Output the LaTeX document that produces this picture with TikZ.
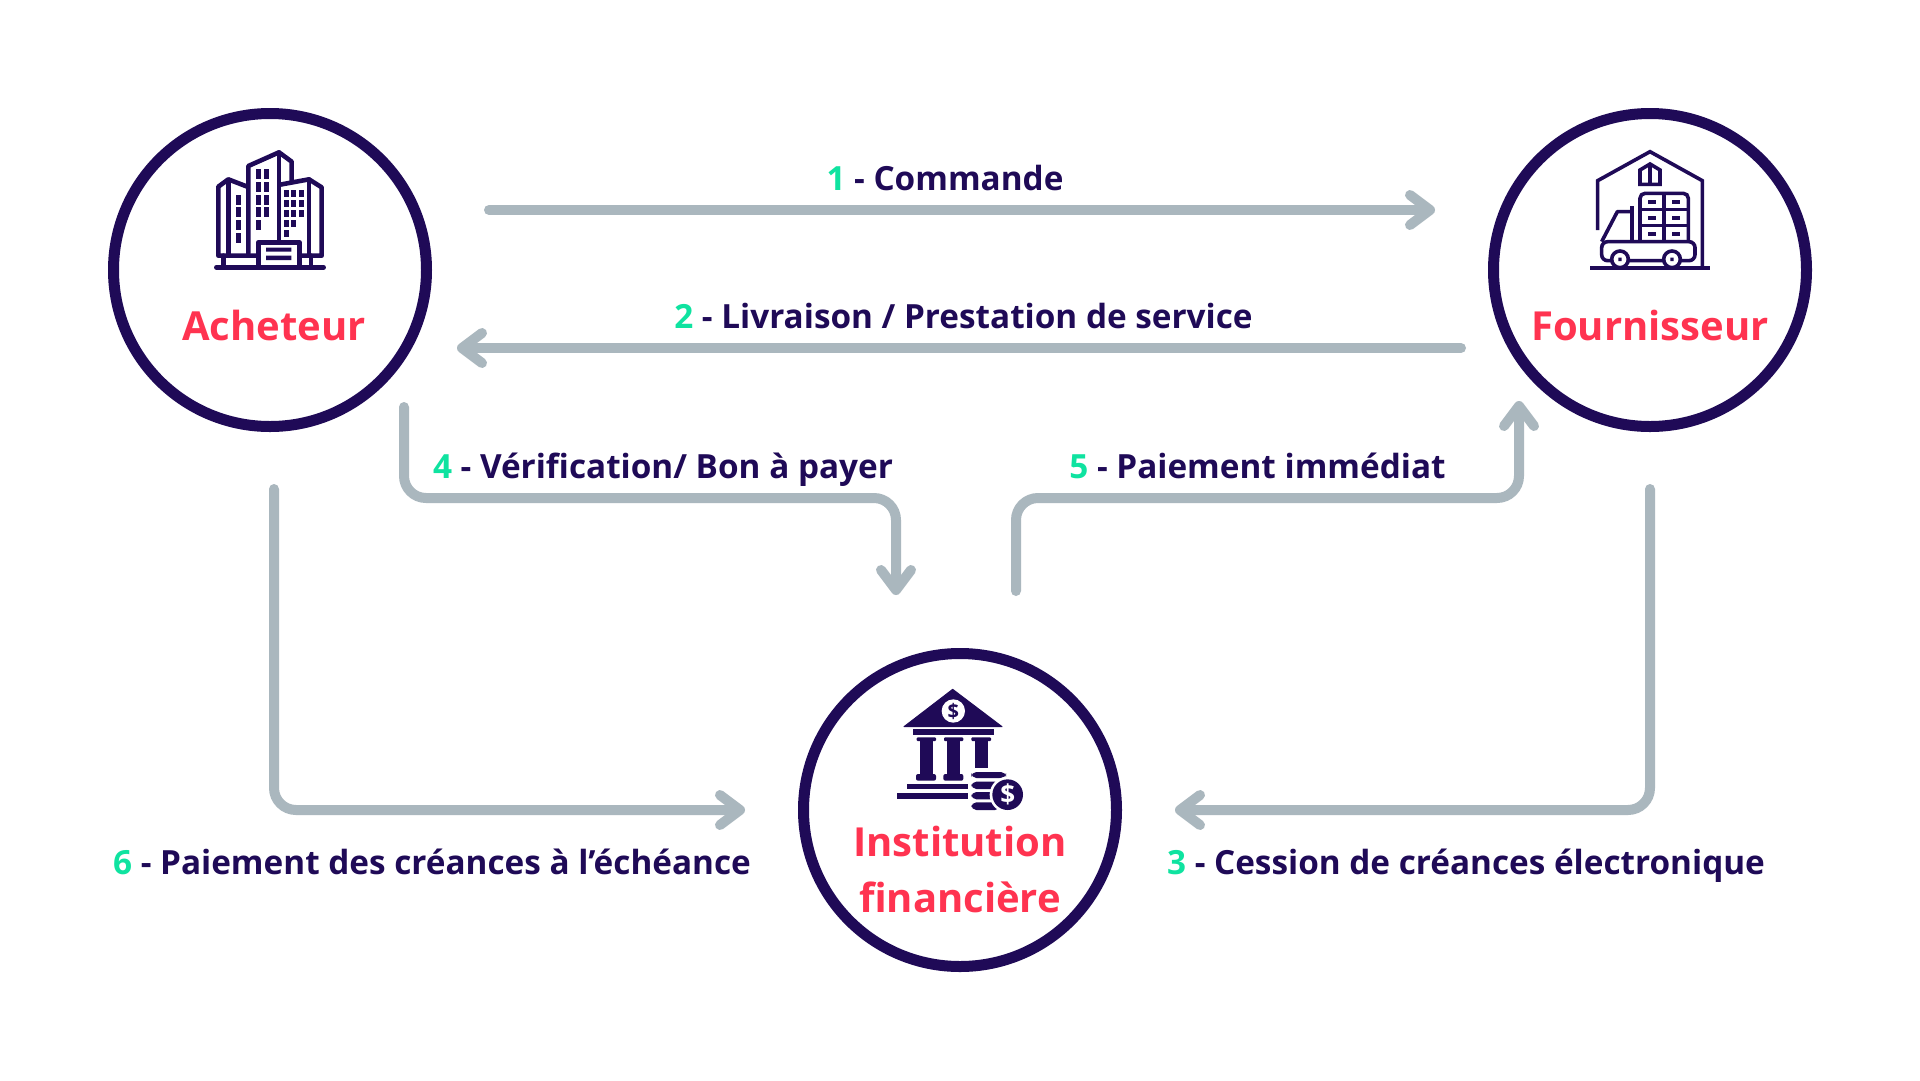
\documentclass[tikz,border=0pt]{standalone}
\usepackage{fontspec}
\setmainfont{Open Sans}
\usetikzlibrary{arrows.meta}
\definecolor{navy}{HTML}{1F0A57}
\definecolor{rouge}{HTML}{FF3350}
\definecolor{vert}{HTML}{0FE3A0}
\definecolor{gris}{HTML}{AAB7BE}
\tikzset{
  ring/.style={circle,draw=navy,line width=11pt,minimum size=313pt,inner sep=0pt,fill=white},
  title/.style={anchor=base,text=rouge,font=\bfseries\fontsize{40}{48}\selectfont,inner sep=0pt},
  lab/.style={anchor=base,text=navy,font=\bfseries\fontsize{33.3}{40}\selectfont,inner sep=0pt},
  flow/.style={draw=gris,line width=10pt,line cap=round,line join=round,rounded corners=22pt},
  head/.style={-{Straight Barb[length=20pt,width=30pt,round]}},
  ic/.style={draw=navy,line join=round,line cap=round},
}
\newcommand{\nm}[1]{\textcolor{vert}{#1}}
\begin{document}
\begin{tikzpicture}[x=1pt,y=-1pt]
\useasboundingbox (0,0) rectangle (1920,1080);
\fill[white] (0,0) rectangle (1920,1080);

% circles
\node[ring] (acheteur) at (270,270) {};
\node[ring] (fournisseur) at (1650,270) {};
\node[ring] (institution) at (960,810) {};

% titles
\node[title] (tA) at (274,340) {Acheteur};
\node[title] (tF) at (1650,340) {Fournisseur};
\node[title] (tI) at (960,856) {Institution};
\node[title] (tI2) at (960,912) {financière};

% connector ends
\coordinate (a1) at (489,210);   \coordinate (b1) at (1435,210);
\coordinate (a2) at (1461,348);  \coordinate (b2) at (457,348);
\coordinate (a3) at (1650,494);  \coordinate (b3) at (1175,810);
\coordinate (a4) at (404,407);   \coordinate (c4) at (896,498); \coordinate (b4) at (896,595);
\coordinate (a5) at (1016,591);  \coordinate (c5) at (1016,498); \coordinate (b5) at (1519,401);
\coordinate (a6) at (274,494);   \coordinate (b6) at (745,810);

\draw[flow,head] (a1) -- (b1);
\draw[flow,head] (a2) -- (b2);
\draw[flow,head] ([yshift=5pt]a3) -- (a3 |- b3) -- (b3);
\draw[flow,head] (a4) -- (a4 |- c4) -- (c4) -- (b4);
\draw[flow,head] (a5) -- (c5) -- (b5 |- c5) -- (b5);
\draw[flow,head] ([yshift=5pt]a6) -- (a6 |- b6) -- (b6);

% labels
\node[lab] (l1) at (945,190) {\nm{1} - Commande};
\node[lab] (l2) at (963.5,328) {\nm{2} - Livraison / Prestation de service};
\node[lab] (l3) at (1466,874) {\nm{3} - Cession de créances électronique};
\node[lab] (l4) at (663,478) {\nm{4} - Vérification/ Bon à payer};
\node[lab] (l5) at (1257.5,478) {\nm{5} - Paiement immédiat};
\node[lab] (l6) at (432,874) {\nm{6} - Paiement des créances à l’échéance};

% building icon
\begin{scope}[shift={(90,90)},x=0.33333pt,y=-0.33333pt]
  \begin{scope}[ic,line width=4.6pt]
    \draw (505,497) -- (385,497) -- (385,290) -- (415,268) -- (472,290);
    \draw (415,272) -- (415,497);
    \draw (475,490) -- (475,228) -- (567,187) -- (605,215) -- (605,275);
    \draw (567,187) -- (567,455);
    \draw (570,284) -- (657,268) -- (695,292) -- (695,497) -- (630,497);
    \draw (657,268) -- (657,497);
    \draw (505,532) -- (505,457) -- (628,457) -- (628,532);
    \draw (379,532) -- (701,532);
    \draw (400,497) -- (400,532);
    \draw (663,497) -- (663,532);
  \end{scope}
  \fill[navy] (528,473) rectangle (604,485) (528,497) rectangle (604,510);
  \foreach \y in {315,352,390,428} \fill[navy] (438,\y) rectangle ++(16,30);
  \foreach \y in {238,276,315,352,390} \fill[navy] (498,\y) rectangle ++(15,30);
  \foreach \y in {238,276,315,352} \fill[navy] (521,\y) rectangle ++(15,30);
  \foreach \x in {582,604,627} \foreach \y in {300,330,360} \fill[navy] (\x,\y) rectangle ++(15,22);
  \foreach \x in {582,604} \fill[navy] (\x,390) rectangle ++(15,22);
  \fill[navy] (582,420) rectangle ++(15,22);
\end{scope}

% truck and warehouse icon
\begin{scope}[shift={(1480,90)},x=0.33333pt,y=-0.33333pt]
  \begin{scope}[draw=navy,line width=3.6pt,line join=miter]
    \draw (353,420) -- (353,272) -- (510,185) -- (667,272) -- (667,532);
    \draw (480,283) -- (480,240) -- (510,222) -- (540,240) -- (540,283) -- cycle;
    \draw (510,222) -- (510,283);
    \draw[rounded corners=5pt] (480,450) -- (480,310) -- (625,310) -- (625,450);
    \draw (552,310) -- (552,450) (480,358) -- (625,358) (480,407) -- (625,407);
    \draw (456,348) -- (456,455);
    \draw[line join=round] (365,455) -- (412,365) -- (456,365);
    \draw[rounded corners=6pt] (365,455) -- (645,455) -- (645,512) -- (365,512) -- cycle;
    \draw[fill=white] (420,508) circle (25);
    \draw[fill=white] (576,508) circle (25);
  \end{scope}
  \foreach \x in {504,576} \foreach \y in {329,377,426} \fill[navy] (\x,\y) rectangle ++(24,12);
  \fill[navy] (415,503) rectangle ++(10,10) (571,503) rectangle ++(10,10);
  \fill[navy] (330,527) rectangle (690,539);
\end{scope}

% bank icon
\begin{scope}[shift={(790,640)},x=0.33333pt,y=-0.33333pt]
  \fill[navy,draw=navy,line join=round,line width=1pt] (342,260) -- (488,148) -- (636,260) -- cycle;
  \fill[white] (490,213) circle (35);
  \node[text=navy,font=\bfseries\fontsize{20}{24}\selectfont,inner sep=0pt] (d1) at (490,213) {\$};
  \fill[navy] (368,268) rectangle (613,285);
  \foreach \x in {380,462} {
    \fill[navy,rounded corners=1pt] (\x,292) rectangle ++(58,11);
    \fill[navy] (\x+10,303) rectangle ++(38,100);
    \fill[navy,rounded corners=2pt] (\x-2,402) rectangle ++(60,20);
  }
  \fill[navy,rounded corners=1pt] (544,292) rectangle ++(59,11);
  \fill[navy] (554,303) rectangle (593,385);
  \fill[navy] (350,432) rectangle (533,448);
  \fill[navy] (320,460) rectangle (535,477);
  \fill[navy,rounded corners=5pt] (544,396) rectangle (648,414);
  \fill[navy,rounded corners=5pt] (544,425) rectangle (630,447);
  \fill[navy,rounded corners=5pt] (544,456) rectangle (620,478);
  \fill[navy,rounded corners=5pt] (544,487) rectangle (630,510);
  \fill[white] (653,464) circle (54);
  \fill[navy] (653,464) circle (46);
  \node[text=white,font=\bfseries\fontsize{26}{30}\selectfont,inner sep=0pt] (d2) at (653,464) {\$};
\end{scope}
\end{tikzpicture}
\end{document}
